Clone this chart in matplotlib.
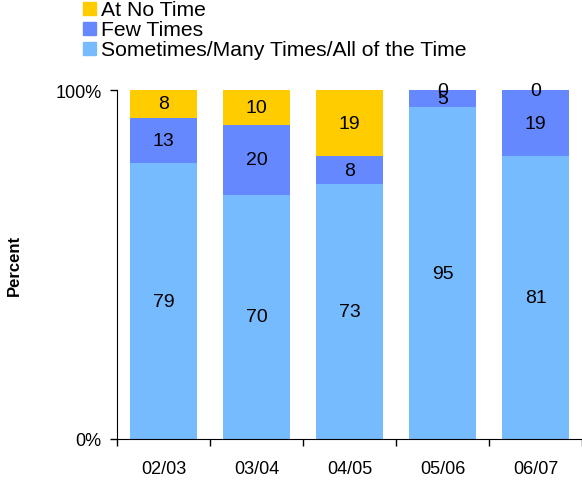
import numpy as np
from matplotlib import pyplot as plt
from matplotlib.patches import Rectangle

plt.rcParams['font.family'] = ['Liberation Sans', 'DejaVu Sans']

years = ["02/03", "03/04", "04/05", "05/06", "06/07"]
sometimes = [79, 70, 73, 95, 81]
few_times = [13, 20, 8, 5, 19]
no_time = [8, 10, 19, 0, 0]
legend_labels = ["At No Time", "Few Times", "Sometimes/Many Times/All of the Time"]

c_some = "#77BBFF"
c_few = "#6688FF"
c_none = "#FFCC00"

W, H = 582, 481
fig = plt.figure(figsize=(W / 100, H / 100), dpi=100)
ax = fig.add_axes([117 / W, 41 / H, 1 - 117 / W, 349 / H])

x = np.arange(len(years))
w = 0.72
s = np.array(sometimes) / 100
f = np.array(few_times) / 100
n = np.array(no_time) / 100

b1 = ax.bar(x, s, w, color=c_some)
b2 = ax.bar(x, f, w, bottom=s, color=c_few)
b3 = ax.bar(x, n, w, bottom=s + f, color=c_none)

for bars, vals in ((b1, sometimes), (b2, few_times), (b3, no_time)):
    ax.bar_label(bars, labels=[str(v) for v in vals], label_type='center', fontsize=14)

ax.set_xlim(-0.5, 4.5)
ax.set_ylim(0, 1)
ax.set_yticks([0, 1])
ax.set_yticklabels(["0%", "100%"], fontsize=13)
ax.set_xticks(np.arange(-0.5, 5, 1))
ax.set_xticklabels([])
ax.set_xticks(x, minor=True)
ax.set_xticklabels(years, minor=True, fontsize=13)
ax.tick_params(axis='x', which='minor', length=0, pad=15)
ax.tick_params(axis='x', which='major', length=5, width=1)
ax.tick_params(axis='y', length=5, width=1, pad=6)
for side in ['top', 'right']:
    ax.spines[side].set_visible(False)
ax.set_ylabel("Percent", fontsize=12, fontweight='bold', labelpad=24)

# legend drawn by hand: square + label per row
for i, (lab, col) in enumerate(zip(legend_labels, [c_none, c_few, c_some])):
    base = 15.7 + 20.2 * i
    fig.patches.append(Rectangle((82.5 / W, 1 - base / H), 13.5 / W, 13 / H,
                                 transform=fig.transFigure, color=col))
    fig.text(101 / W, 1 - base / H, lab, fontsize=15.2, va='baseline', ha='left')

plt.savefig("out.png")
